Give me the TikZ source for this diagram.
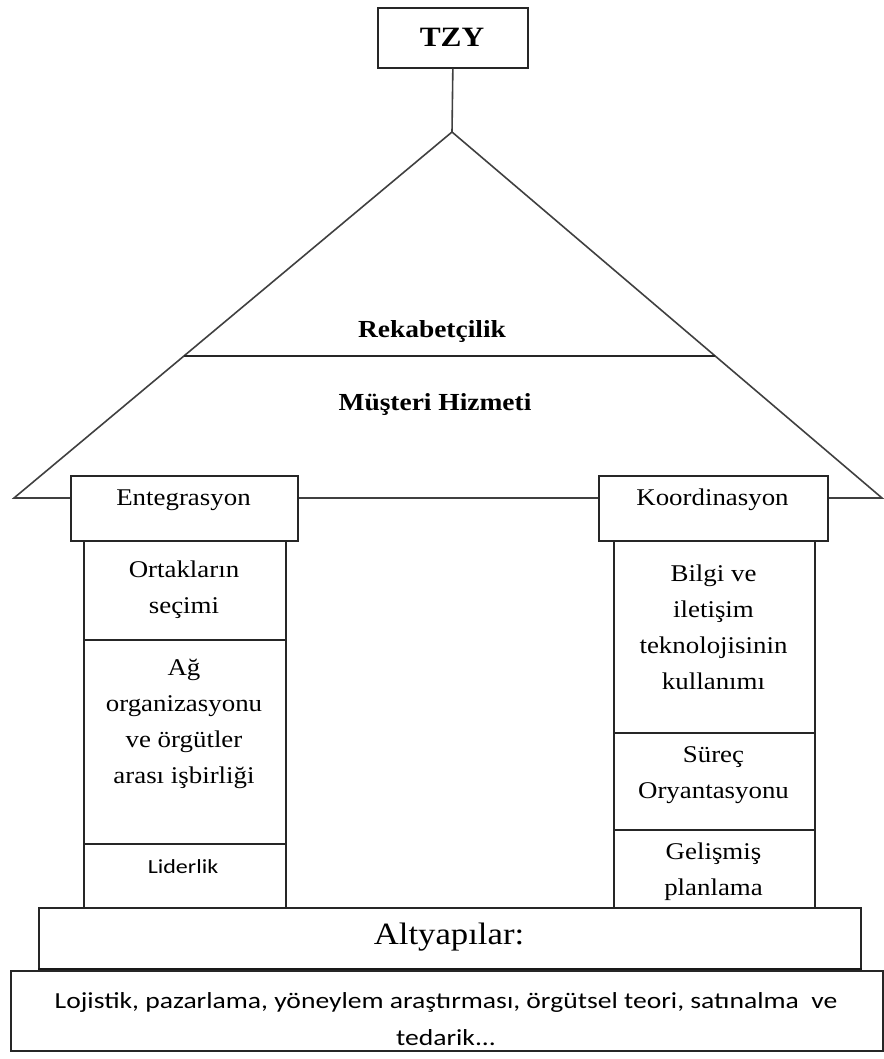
\documentclass[tikz,border=0pt]{standalone}
\usepackage{fontspec}
\setmainfont{Liberation Serif}[FakeStretch=1.12]
\newfontfamily\calib{Carlito}[FakeStretch=1.2]
\usetikzlibrary{calc}

\tikzset{
  box/.style={draw=black!85, line width=1.7pt, fill=white, inner sep=0pt, anchor=north west},
  edge/.style={draw=black!75, line width=1.6pt},
  txt/.style={align=center, inner sep=0pt, text=black},
  coltxt/.style={txt, font=\fontsize{24}{36}\selectfont},
  headtxt/.style={txt, font=\fontsize{24.5}{30}\selectfont\bfseries},
}

\begin{document}
\begin{tikzpicture}[x=1pt, y=-1pt]
  \useasboundingbox (0,0) rectangle (883,1059);

  % roof
  \coordinate (apex)  at (452,132);
  \coordinate (roofL) at (14,498);
  \coordinate (roofR) at (882,498);
  \coordinate (rekL) at ($(apex)!0.612!(roofL)$);
  \coordinate (rekR) at ($(apex)!0.612!(roofR)$);
  \draw[edge, line join=miter] (roofL) -- (apex) -- (roofR) -- cycle;
  \draw[edge, draw=black!85, line width=2pt] (rekL) -- (rekR);

  % top label
  \node[box, minimum width=150pt, minimum height=60pt] (tzy) at (377,7) {};
  \node[txt, font=\fontsize{28}{30}\selectfont\bfseries] (tzyt) at (452,37) {TZY};
  \draw[edge] (tzy.south) -- (apex);

  \node[headtxt] (rek) at (432,332) {Rekabetçilik};
  \node[headtxt] (mus) at (435,405) {Müşteri Hizmeti};

  % capitals
  \node[box, minimum width=227pt, minimum height=65pt] (ent) at (70,475) {};
  \node[coltxt] (entt) at (183.5,500) {Entegrasyon};
  \node[box, minimum width=229pt, minimum height=65pt] (koo) at (598,475) {};
  \node[coltxt] (koot) at (712.5,500) {Koordinasyon};

  % left column
  \node[box, minimum width=202pt, minimum height=99pt]  (ort) at (83,540) {};
  \node[box, minimum width=202pt, minimum height=204pt] (ag)  at (83,639) {};
  \node[box, minimum width=202pt, minimum height=64pt]  (lid) at (83,843) {};
  \node[coltxt] (ortt) at (184,590) {Ortakların\\seçimi};
  \node[coltxt] (agt)  at (184,724) {Ağ\\organizasyonu\\ve örgütler\\arası işbirliği};
  \node[txt, font=\calib\fontsize{20}{24}\selectfont] (lidt) at (183,867) {Liderlik};

  % right column
  \node[box, minimum width=201pt, minimum height=192pt] (bil) at (613,540) {};
  \node[box, minimum width=201pt, minimum height=97pt]  (sur) at (613,732) {};
  \node[box, minimum width=201pt, minimum height=78pt]  (gel) at (613,829) {};
  \node[coltxt] (bilt) at (713.5,627) {Bilgi ve\\iletişim\\teknolojisinin\\kullanımı};
  \node[coltxt] (surt) at (713.5,775) {Süreç\\Oryantasyonu};
  \node[coltxt] (gelt) at (713.5,872) {Gelişmiş\\planlama};

  % foundations
  \node[box, minimum width=822pt, minimum height=61pt] (alt) at (38,907) {};
  \draw[black!90, line width=2.6pt] (alt.south west) -- (alt.south east);
  \node[txt, font=\fontsize{31}{34}\selectfont] (altt) at (449,937) {Altyapılar:};
  \node[box, minimum width=872pt, minimum height=80pt] (ted) at (10,970) {};
  \node[txt, font=\calib\fontsize{23}{37}\selectfont] (tedt) at (446,1019)
    {Lojistik, pazarlama, yöneylem araştırması, örgütsel teori, satınalma\ \ ve\\tedarik...};
\end{tikzpicture}
\end{document}
